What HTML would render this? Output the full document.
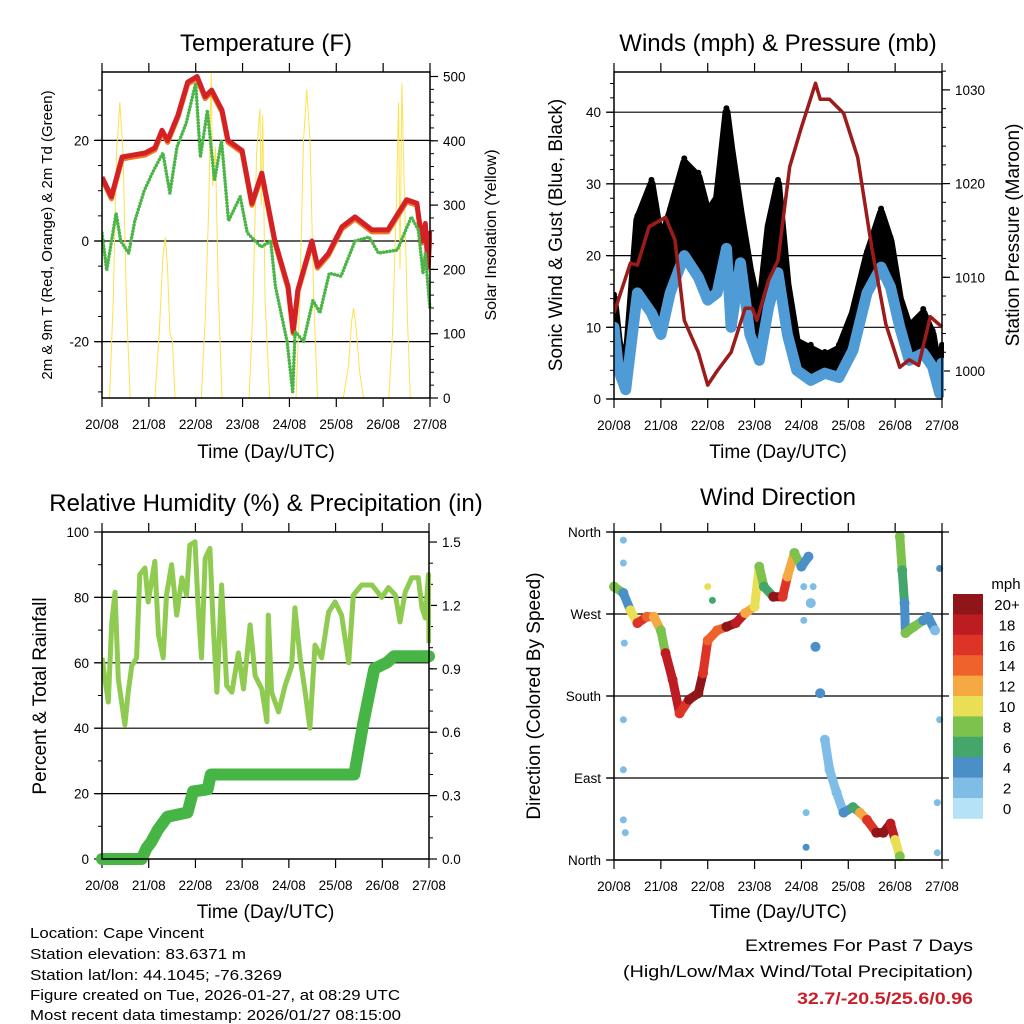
<!DOCTYPE html>
<html><head><meta charset="utf-8"><style>
html,body{margin:0;padding:0;background:#fff;}
svg{display:block;font-family:"Liberation Sans",sans-serif;}
</style></head><body>
<svg id="fig" width="1024" height="1024" viewBox="0 0 1024 1024" xmlns="http://www.w3.org/2000/svg">
<g id="g-temp"></g>
<g id="g-wind"></g>
<g id="g-rh"></g>
<g id="g-dir"></g>
<g font-size="15" fill="#000">
<text x="30" y="938" textLength="174" lengthAdjust="spacingAndGlyphs">Location: Cape Vincent</text>
<text x="30" y="959" textLength="216" lengthAdjust="spacingAndGlyphs">Station elevation: 83.6371 m</text>
<text x="30" y="980" textLength="252" lengthAdjust="spacingAndGlyphs">Station lat/lon: 44.1045; -76.3269</text>
<text x="30" y="1000" textLength="370" lengthAdjust="spacingAndGlyphs">Figure created on Tue, 2026-01-27, at 08:29 UTC</text>
<text x="30" y="1020" textLength="371" lengthAdjust="spacingAndGlyphs">Most recent data timestamp: 2026/01/27 08:15:00</text>
</g>
<g text-anchor="end">
<text x="973" y="951" font-size="17" textLength="228" lengthAdjust="spacingAndGlyphs">Extremes For Past 7 Days</text>
<text x="973" y="977" font-size="17" textLength="350" lengthAdjust="spacingAndGlyphs">(High/Low/Max Wind/Total Precipitation)</text>
<text x="973" y="1004" font-size="17" font-weight="bold" fill="#c8202a" textLength="176" lengthAdjust="spacingAndGlyphs">32.7/-20.5/25.6/0.96</text>
</g>
</svg>
<script>
// ---------- DATA ----------
const dayLabels = ["20/08","21/08","22/08","23/08","24/08","25/08","26/08","27/08"];
const tempT = [0,0.2,0.43,0.92,1.13,1.28,1.4,1.62,1.83,2.03,2.2,2.34,2.56,2.69,2.99,3.2,3.41,3.69,3.97,4.08,4.18,4.48,4.6,4.83,5.12,5.4,5.76,6.1,6.5,6.72,6.83,6.9,6.96,7];
const tempV = [12.7,8.8,16.7,17.5,18.5,22,20,25,31.6,32.7,28.7,30,26,20,18,7.5,13.5,0,-9,-18,-9.7,0,-5,-2.5,2.8,4.8,2.2,2.2,8.2,7.5,0,3.5,-5,2];
const dewT = [0,0.1,0.3,0.4,0.57,0.7,0.9,1.1,1.3,1.45,1.6,1.8,2.0,2.1,2.25,2.4,2.55,2.7,2.95,3.1,3.4,3.6,3.7,3.95,4.07,4.12,4.3,4.5,4.65,4.85,5.1,5.4,5.7,5.9,6.3,6.6,6.75,6.85,6.9,7];
const dewV = [1.6,-5.8,5.5,0,-2.4,4,10,14,17.5,9.5,18.7,23.5,31.4,16.7,26,12,20,4,8.8,1.6,-1.2,0,-9,-20,-30,-18,-20,-11.8,-14.3,-6.4,-7,0,0.8,-2.4,-1.8,4.8,2.2,-6.4,-2.4,-13.7];
const solarT = [0,0.16,0.24,0.31,0.38,0.45,0.52,0.6,1.13,1.22,1.3,1.35,1.4,1.45,1.5,1.56,2.12,2.2,2.28,2.33,2.36,2.42,2.48,2.56,3.14,3.22,3.3,3.37,3.4,3.43,3.48,3.58,4.14,4.22,4.3,4.37,4.44,4.52,4.6,5.15,5.26,5.33,5.37,5.42,5.5,5.58,6.12,6.2,6.28,6.33,6.36,6.4,6.45,6.52,6.58,7];
const solarV = [0,0,150,380,460,380,150,0,0,100,220,250,200,100,90,0,0,120,300,505,330,390,170,0,0,140,380,450,300,440,150,0,0,150,400,480,400,150,0,0,50,120,140,110,40,0,0,100,300,460,200,490,330,120,0,0];

const windT = [0,0.1,0.25,0.5,0.8,1,1.2,1.5,1.8,2.0,2.2,2.4,2.5,2.7,2.9,3.1,3.3,3.5,3.7,3.9,4.2,4.5,4.8,5.1,5.4,5.7,5.9,6.1,6.3,6.6,6.8,6.95,7];
const windSpd = [10,4,1.3,14.8,12,9,14.8,20,17,13.8,14.8,21,10,19,9,5.4,12.8,17.6,9,4,2.6,3.6,3,6.8,14.8,18.4,15.6,10,5.4,6.4,4.5,0.8,5];
const windGust = [14,8,4,25,30,22,26,33,31,26,28,40,35,26,18,12,24,30,16,8,7,6,7,12,20,26,22,14,10,12,9,3,7];
const presT = [0,0.35,0.5,0.75,1.1,1.3,1.5,1.8,2.0,2.2,2.5,2.8,2.95,3.05,3.3,3.5,3.75,4.0,4.3,4.4,4.6,4.9,5.2,5.5,5.8,6.1,6.3,6.5,6.75,7];
const presV = [1006.2,1011.5,1011.3,1015.4,1016.4,1014,1005.4,1002,998.5,1000,1002,1006.7,1006.7,1005.4,1009.7,1011.8,1021.8,1026,1030.7,1029,1029,1027.5,1022.8,1013.2,1005,1000.4,1001.2,1000.6,1005.8,1004.7];

const rhT = [0,0.064,0.135,0.207,0.278,0.35,0.49,0.56,0.635,0.74,0.81,0.92,0.99,1.13,1.21,1.31,1.38,1.49,1.6,1.71,1.81,1.88,1.99,2.06,2.13,2.21,2.31,2.38,2.46,2.56,2.67,2.78,2.92,3.03,3.17,3.28,3.42,3.53,3.56,3.63,3.78,3.92,4.06,4.13,4.24,4.35,4.45,4.56,4.7,4.85,4.99,5.13,5.28,5.38,5.56,5.78,5.99,6.13,6.28,6.38,6.49,6.63,6.77,6.85,6.92,6.99,7];
const rhV = [61.5,55,48,72,81.6,55,41,51,59,61.5,87,89,78.6,91,68.5,61.5,80.7,90,74.6,86,80.7,96,97,76.8,61.5,92,95,71.6,51,83.8,53,51,63,52,71.6,56,52,42,74.6,51,45,53,59,76.8,61.5,51,40,65.4,61.5,75.5,78.6,74.6,60,80.7,83.8,83.8,80,83,80.7,72.5,81.6,86,86,76.8,73.7,87,66];
const rainT = [0,0.85,0.95,1.05,1.2,1.4,1.83,1.95,2.26,2.33,5.4,5.6,5.83,6.1,6.25,7];
const rainV = [0,0,0.05,0.08,0.14,0.2,0.22,0.32,0.33,0.4,0.4,0.65,0.9,0.93,0.96,0.96];

const dirT = [0,0.2,0.35,0.5,0.7,0.85,1.0,1.1,1.25,1.4,1.6,1.8,1.9,2.0,2.2,2.4,2.6,2.8,3.0,3.1,3.2,3.4,3.6,3.7,3.85,4.0,4.15,4.2,4.3,4.4,4.5,4.6,4.75,4.9,5.1,5.25,5.4,5.6,5.75,5.9,6.0,6.1];
const dirD = [300,293,274,260,267,267,252,227,198,161,176,183,205,241,252,256,260,271,278,322,300,289,289,311,337,322,333,282,234,183,132,99,74,52,58,52,44,30,30,40,22,4];
const dirS = [9,4,10,16,14,12,8,18,18,16,20,20,16,14,14,20,18,12,10,8,6,20,16,12,8,4,4,2,4,4,2,2,2,4,6,12,16,20,20,18,10,8];
const dir2T = [6.1,6.15,6.2,6.22,6.4,6.6,6.7,6.85];
const dir2D = [355,318,282,249,256,263,267,252];
const dir2S = [8,6,4,8,8,4,4,2];
const dirScatT = [0.2,0.2,0.2,0.2,0.2,4.1,4.1,6.9,6.9,6.95,4.05,4.05,4.25,0.22,0.24,2.0,2.1,6.95];
const dirScatD = [154,99,44,351,326,52,14,63,8,154,263,300,300,238,30,300,285,320];
const dirScatS = [2,2,2,2,2,2,4,2,2,2,2,2,2,2,2,10,6,4];
const cbLabels = ["20+","18","16","14","12","10","8","6","4","2","0"];
const cbColors = ["#8f1518","#be1c23","#dd3427","#f0622b","#f6a843","#e8df57","#7cc24c","#45a66b","#4a8fc8","#80bde6","#b6e2f8"];

// ---------- HELPERS ----------
const NS="http://www.w3.org/2000/svg";
function mk(parent,tag,attrs){const e=document.createElementNS(NS,tag);for(const k in attrs)e.setAttribute(k,attrs[k]);parent.appendChild(e);return e;}
function txt(parent,x,y,s,size,anchor,extra){const e=mk(parent,"text",Object.assign({x:x,y:y,"font-size":size,"text-anchor":anchor||"middle",fill:"#000"},extra||{}));e.textContent=s;return e;}
function pts(T,V,fx,fy){return T.map((t,i)=>fx(t).toFixed(1)+","+fy(V[i]).toFixed(1)).join(" ");}
function frame(g,P){
  const r=mk(g,"rect",{x:P.x0,y:P.y0,width:P.x1-P.x0,height:P.y1-P.y0,fill:"none",stroke:"#000","stroke-width":1.5});
  
  
}
function xAxis(g,P,labelY){
  const xs=t=>P.x0+t/7*(P.x1-P.x0);
  for(let d=0;d<=7;d++){
    const x=xs(d);
    const tk=mk(g,"path",{d:`M${x},${P.y0}V${P.y0-9}M${x},${P.y1}V${P.y1+9}`,stroke:"#000","stroke-width":1.2});
    
    
    const l=txt(g,x,P.y1+31,dayLabels[d],13.5);
    
    
  }
  const t=txt(g,(P.x0+P.x1)/2,labelY,"Time (Day/UTC)",19);
  
  
  return xs;
}
function yTicks(g,P,side,fy,majors,labels,minors,grid){
  const x=side==="L"?P.x0:P.x1, s=side==="L"?-1:1;
  majors.forEach((v,i)=>{
    const y=fy(v);
    if(grid){const gl=mk(g,"line",{x1:P.x0-7,x2:P.x1,y1:y,y2:y,stroke:"#000","stroke-width":1.2});
      
      }
    const tk=mk(g,"line",{x1:x,x2:x+s*8,y1:y,y2:y,stroke:"#000","stroke-width":1.2});
    
    
    const l=txt(g,x+s*13,y+5,labels[i],13.5,side==="L"?"end":"start");
    
    
  });
  (minors||[]).forEach(v=>{const y=fy(v);
    const tk=mk(g,"line",{x1:x,x2:x+s*4,y1:y,y2:y,stroke:"#000","stroke-width":1});
    
    });
}
function range(a,b,st){const r=[];for(let v=a;v<=b+1e-9;v+=st)r.push(+v.toFixed(3));return r;}
function vlabel(g,x,y,s,size){const e=txt(g,x,y,s,size,"middle",{transform:`rotate(-90 ${x} ${y})`});return e;}
function title(g,x,y,s){const e=txt(g,x,y,s,24);}
function clip(id,P){const d=mk(document.getElementById("fig"),"clipPath",{id:id});mk(d,"rect",{x:P.x0,y:P.y0-2,width:P.x1-P.x0+2,height:P.y1-P.y0+4});}

// ---------- TEMPERATURE ----------
(function(){
  const g=document.getElementById("g-temp");
  const P={x0:102,x1:430,y0:72,y1:398};
  const yL=v=>241-v*5.03, yR=s=>398-s*0.643;
  clip("c1",P);
  title(g,266,51,"Temperature (F)");
  yTicks(g,P,"L",yL,[-20,0,20],["-20","0","20"],range(-30,30,5),true);
  yTicks(g,P,"R",yR,[0,100,200,300,400,500],["0","100","200","300","400","500"],range(20,500,20));
  const xs=xAxis(g,P,458);
  const cg=mk(g,"g",{"clip-path":"url(#c1)"});
  const s=mk(cg,"polyline",{points:pts(solarT,solarV,xs,yR),fill:"none",stroke:"#ffe14d","stroke-width":1});
  
  
  const o=mk(cg,"polyline",{points:pts(tempT,tempV,xs,yL),fill:"none",stroke:"#f07a24","stroke-width":5,"stroke-linejoin":"round",transform:"translate(0,2)"});
  
  
  const r=mk(cg,"polyline",{points:pts(tempT,tempV,xs,yL),fill:"none",stroke:"#d42126","stroke-width":5,"stroke-linejoin":"round"});
  
  
  const d=mk(cg,"polyline",{points:pts(dewT,dewV,xs,yL),fill:"none",stroke:"#4cb547","stroke-width":3.5,"stroke-dasharray":"0 3.2","stroke-linecap":"round","stroke-linejoin":"round"});
  
  
  frame(g,P);
  const a=vlabel(g,52,235,"2m & 9m T (Red, Orange) & 2m Td (Green)",15);
  
  
  const b=vlabel(g,496,235,"Solar Insolation (Yellow)",16);
  
  
})();

// ---------- WINDS ----------
(function(){
  const g=document.getElementById("g-wind");
  const P={x0:614,x1:942,y0:72,y1:399};
  const yL=v=>399-v*7.17, yR=p=>371-(p-1000)*9.37;
  clip("c2",P);
  title(g,778,51,"Winds (mph) & Pressure (mb)");
  yTicks(g,P,"L",yL,[0,10,20,30,40],["0","10","20","30","40"],range(2,44,2),true);
  yTicks(g,P,"R",yR,[1000,1010,1020,1030],["1000","1010","1020","1030"],range(998,1032,2));
  const xs=xAxis(g,P,458);
  const cg=mk(g,"g",{"clip-path":"url(#c2)"});
  const band=pts(windT,windGust,xs,yL)+" "+pts(windT.slice().reverse(),windSpd.slice().reverse(),xs,yL);
  const k=mk(cg,"polygon",{points:band,fill:"#000",stroke:"#000","stroke-width":8,"stroke-linejoin":"round"});
  
  
  windT.forEach((t,i)=>{const c=mk(cg,"circle",{cx:xs(t),cy:yL(windGust[i])-4,r:3,fill:"#000"});
    
    });
  const bl=mk(cg,"polyline",{points:pts(windT,windSpd,xs,yL),fill:"none",stroke:"#4f9bd6","stroke-width":11,"stroke-linejoin":"round","stroke-linecap":"round"});
  
  
  const pr=mk(cg,"polyline",{points:pts(presT,presV,xs,yR),fill:"none",stroke:"#9c1b1b","stroke-width":3.5,"stroke-linejoin":"round"});
  
  
  frame(g,P);
  const a=vlabel(g,562,235,"Sonic Wind & Gust (Blue, Black)",19);
  
  
  const b=vlabel(g,1019,235,"Station Pressure (Maroon)",19);
  
  
})();

// ---------- RH / PRECIP ----------
(function(){
  const g=document.getElementById("g-rh");
  const P={x0:102,x1:429,y0:532,y1:859};
  const yL=v=>859-v*3.27, yR=p=>859-p*211.3;
  clip("c3",P);
  title(g,266,511,"Relative Humidity (%) & Precipitation (in)");
  yTicks(g,P,"L",yL,[0,20,40,60,80,100],["0","20","40","60","80","100"],range(10,90,20));
  [20,40,60,80].forEach(v=>{const gl=mk(g,"line",{x1:P.x0-7,x2:P.x1,y1:yL(v),y2:yL(v),stroke:"#000","stroke-width":1.2});
    
    });
  yTicks(g,P,"R",yR,[0,0.3,0.6,0.9,1.2,1.5],["0.0","0.3","0.6","0.9","1.2","1.5"],range(0.1,1.4,0.1));
  const xs=xAxis(g,P,918);
  const cg=mk(g,"g",{"clip-path":"url(#c3)"});
  const rh=mk(cg,"polyline",{points:pts(rhT,rhV,xs,yL),fill:"none",stroke:"#8fcb50","stroke-width":5,"stroke-linejoin":"round"});
  
  
  const pc=mk(g,"polyline",{points:pts(rainT,rainV,xs,yR),fill:"none",stroke:"#46b546","stroke-width":12,"stroke-linejoin":"round","stroke-linecap":"round"});
  
  
  frame(g,P);
  const a=vlabel(g,46,696,"Percent & Total Rainfall",19);
  
  
})();

// ---------- WIND DIRECTION ----------
(function(){
  const g=document.getElementById("g-dir");
  const P={x0:614,x1:942,y0:532,y1:860};
  const yD=d=>860-d*0.9111;
  const col=s=>cbColors[10-Math.min(10,Math.floor(s/2))];
  title(g,778,505,"Wind Direction");
  [0,90,180,270,360].forEach(d=>{const gl=mk(g,"line",{x1:P.x0-7,x2:P.x1+7,y1:yD(d),y2:yD(d),stroke:"#000","stroke-width":1.2});
    
    });
  yTicks(g,P,"L",yD,[0,90,180,270,360],["North","East","South","West","North"],[]);
  const xs=xAxis(g,P,918);
  function series(T,D,S){
    for(let i=1;i<T.length;i++){
      if(Math.abs(D[i]-D[i-1])<45){
        const sg=mk(g,"line",{x1:xs(T[i-1]),y1:yD(D[i-1]),x2:xs(T[i]),y2:yD(D[i]),stroke:col(S[i-1]),"stroke-width":9,"stroke-linecap":"round"});
        
        
      }
    }
    T.forEach((t,i)=>{const c=mk(g,"circle",{cx:xs(t),cy:yD(D[i]),r:5,fill:col(S[i])});
      
      });
  }
  series(dirT,dirD,dirS);
  series(dir2T,dir2D,dir2S);
  dirScatT.forEach((t,i)=>{const c=mk(g,"circle",{cx:xs(t),cy:yD(dirScatD[i]),r:3.5,fill:col(dirScatS[i])});
    
    });
  frame(g,P);
  const a=vlabel(g,540,696,"Direction (Colored By Speed)",19);
  
  
  const cb=mk(g,"g",{});
  
  
  const u=txt(cb,1006,589,"mph",15);
  
  
  cbLabels.forEach((l,i)=>{
    const y=594+i*20.4;
    const r=mk(cb,"rect",{x:953,y:y,width:30,height:20.8,fill:cbColors[i]});
    
    
    const t=txt(cb,1007,y+16,l,15);
    
    
  });
})();
</script>
</body></html>
